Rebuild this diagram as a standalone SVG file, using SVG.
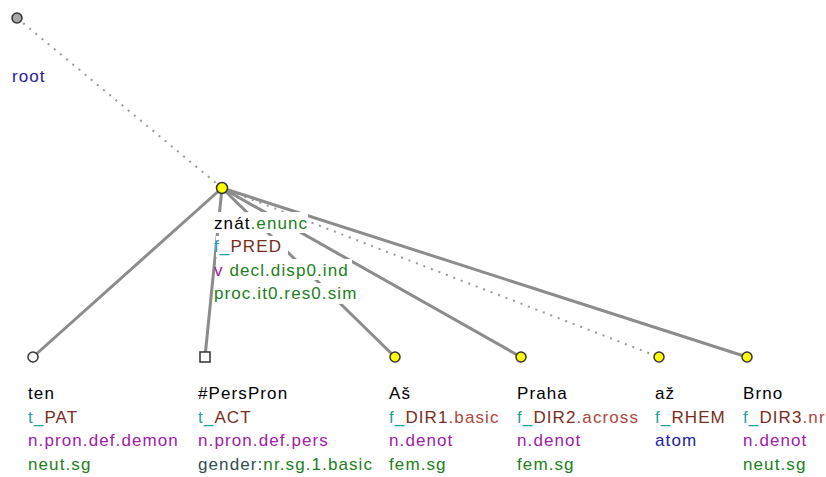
<svg xmlns="http://www.w3.org/2000/svg" width="826" height="477" viewBox="0 0 826 477">
<style>
text{font-family:"Liberation Sans",Arial,sans-serif;font-size:17px;letter-spacing:1.1px;fill:#000}
.bg{fill:#fff}
.f{fill:#20a0a8}
.fn{fill:#7a2c1c}
.sf{fill:#b0483a}
.p{fill:#a020a8}
.g{fill:#208020}
.b{fill:#2020a0}
.d{fill:#2f4f4f}
.e{stroke:#8c8c8c;stroke-width:3;fill:none;stroke-linecap:round}
.dot{stroke:#999;stroke-width:2;fill:none;stroke-dasharray:2 6}
.nd{stroke:#333;stroke-width:1.5}
.y{fill:#ffff00}
.w{fill:#fff}
.gr{fill:#a8a8a8}
</style>
<rect width="826" height="477" fill="#fff"/>
<g id="connectors">
<line class="dot" x1="17" y1="18" x2="222" y2="188"/>
<line class="e" x1="222" y1="188" x2="33" y2="357"/>
<line class="e" x1="222" y1="188" x2="205" y2="357"/>
<line class="e" x1="222" y1="188" x2="395" y2="357"/>
<line class="e" x1="222" y1="188" x2="521" y2="357"/>
<line class="dot" x1="222" y1="188" x2="659" y2="357"/>
<line class="e" x1="222" y1="188" x2="747" y2="357"/>
</g>
<g id="root">
<circle class="nd gr" cx="17" cy="18" r="5"/>
<text x="12" y="82" class="b">root</text>
</g>
<g id="znat">
<rect class="bg" x="216" y="212" width="92" height="21"/>
<rect class="bg" x="216" y="236" width="72" height="21"/>
<rect class="bg" x="216" y="259" width="136" height="21"/>
<rect class="bg" x="216" y="283" width="144" height="21"/>
<circle class="nd y" cx="222" cy="188" r="5.5"/>
<text x="214" y="228.5">znát<tspan class="g">.enunc</tspan></text>
<text x="214" y="252"><tspan class="f">f_</tspan><tspan class="fn">PRED</tspan></text>
<text x="214" y="275.5"><tspan class="p">v</tspan> <tspan class="g">decl.disp0.ind</tspan></text>
<text x="214" y="299" class="g">proc.it0.res0.sim</text>
</g>
<g id="ten">
<circle class="nd w" cx="33" cy="357" r="5"/>
<text x="28" y="399">ten</text>
<text x="28" y="422.5"><tspan class="f">t_</tspan><tspan class="fn">PAT</tspan></text>
<text x="28" y="446" class="p">n.pron.def.demon</text>
<text x="28" y="469.5" class="g">neut.sg</text>
</g>
<g id="perspron">
<rect class="nd w" x="200" y="352" width="10" height="10"/>
<text x="198" y="399">#PersPron</text>
<text x="198" y="422.5"><tspan class="f">t_</tspan><tspan class="fn">ACT</tspan></text>
<text x="198" y="446" class="p">n.pron.def.pers</text>
<text x="198" y="469.5"><tspan class="d">gender:</tspan><tspan class="g">nr.sg.1.basic</tspan></text>
</g>
<g id="as">
<circle class="nd y" cx="395" cy="357" r="5"/>
<text x="389" y="399">Aš</text>
<text x="389" y="422.5"><tspan class="f">f_</tspan><tspan class="fn">DIR1</tspan><tspan class="sf">.basic</tspan></text>
<text x="389" y="446" class="p">n.denot</text>
<text x="389" y="469.5" class="g">fem.sg</text>
</g>
<g id="praha">
<circle class="nd y" cx="521" cy="357" r="5"/>
<text x="517" y="399">Praha</text>
<text x="517" y="422.5"><tspan class="f">f_</tspan><tspan class="fn">DIR2</tspan><tspan class="sf">.across</tspan></text>
<text x="517" y="446" class="p">n.denot</text>
<text x="517" y="469.5" class="g">fem.sg</text>
</g>
<g id="az">
<circle class="nd y" cx="659" cy="357" r="5"/>
<text x="655" y="399">až</text>
<text x="655" y="422.5"><tspan class="f">f_</tspan><tspan class="fn">RHEM</tspan></text>
<text x="655" y="446" class="b">atom</text>
</g>
<g id="brno">
<circle class="nd y" cx="747" cy="357" r="5"/>
<text x="743" y="399">Brno</text>
<text x="743" y="422.5"><tspan class="f">f_</tspan><tspan class="fn">DIR3</tspan><tspan class="sf">.nr</tspan></text>
<text x="743" y="446" class="p">n.denot</text>
<text x="743" y="469.5" class="g">neut.sg</text>
</g>
</svg>
